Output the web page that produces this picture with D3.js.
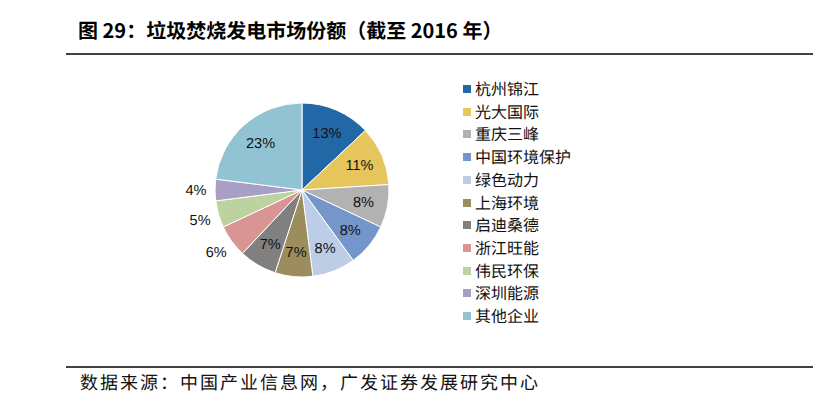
<!DOCTYPE html>
<html lang="zh-CN">
<head>
<meta charset="utf-8">
<script src="https://cdn.jsdelivr.net/npm/d3@7"></script>
<style>
  body { margin: 0; background: #fff; }
  svg { display: block; }
  text { -webkit-font-smoothing: antialiased; text-rendering: geometricPrecision; }
</style>
</head>
<body>
<div class="graph"></div>
<script>
const companies = ['杭州锦江', '光大国际', '重庆三峰', '中国环境保护', '绿色动力', '上海环境', '启迪桑德', '浙江旺能', '伟民环保', '深圳能源', '其他企业'];
const shares = [13, 11, 8, 8, 8, 7, 7, 6, 5, 4, 23];
const colors = ['#2368a6', '#e6c55c', '#b2b2b2', '#7596cb', '#bccde5', '#9b8d5c', '#808080', '#d99593', '#bdd39f', '#a89fc5', '#92c3d3'];
const outside = ['浙江旺能', '伟民环保', '深圳能源'];

const width = 824;
const height = 397;
const cjk = '"Noto Sans CJK SC", "Noto Sans CJK JP", "Noto Sans CJK TC", sans-serif';

const svg = d3.select('.graph').append('svg')
  .attr('width', width)
  .attr('height', height);

// title + rules
svg.append('text')
  .attr('x', 78)
  .attr('y', 38)
  .attr('font-family', cjk)
  .attr('font-weight', 'bold')
  .attr('font-size', '20px')
  .attr('fill', '#000')
  .text('图 29：垃圾焚烧发电市场份额（截至 2016 年）');

svg.append('line')
  .attr('x1', 66).attr('x2', 813)
  .attr('y1', 54).attr('y2', 54)
  .attr('stroke', '#000').attr('stroke-width', 1.5);

svg.append('line')
  .attr('x1', 66).attr('x2', 813)
  .attr('y1', 367).attr('y2', 367)
  .attr('stroke', '#000').attr('stroke-width', 1.5);

svg.append('text')
  .attr('x', 80)
  .attr('y', 389)
  .attr('font-family', cjk)
  .attr('font-size', '18px')
  .attr('letter-spacing', '2px')
  .attr('fill', '#111')
  .text('数据来源：中国产业信息网，广发证券发展研究中心');

// pie
const data = companies.map((c, i) => ({ name: c, value: shares[i] }));
const radius = 87;
const cx = 302, cy = 190;

const pie = d3.pie().sort(null).value(d => d.value);
const arc = d3.arc().innerRadius(0).outerRadius(radius);
const labelArc = d3.arc().innerRadius(radius * 0.72).outerRadius(radius * 0.72);
const outerArc = d3.arc().innerRadius(radius * 1.22).outerRadius(radius * 1.22);

const color = d3.scaleOrdinal().domain(companies).range(colors);

const g = svg.append('g').attr('transform', `translate(${cx},${cy})`);

const arcs = pie(data);

g.selectAll('path')
  .data(arcs)
  .enter().append('path')
  .attr('d', arc)
  .attr('fill', d => color(d.data.name))
  .attr('stroke', '#fff')
  .attr('stroke-width', 1);

g.selectAll('text')
  .data(arcs)
  .enter().append('text')
  .attr('transform', d => {
    const p = outside.includes(d.data.name) ? outerArc.centroid(d) : labelArc.centroid(d);
    return `translate(${p})`;
  })
  .attr('text-anchor', 'middle')
  .attr('dy', '0.35em')
  .attr('font-family', '"Liberation Sans", Arial, sans-serif')
  .attr('font-size', '14.5px')
  .attr('fill', '#111')
  .text(d => d.data.value + '%');

// legend
const legend = svg.append('g').attr('transform', 'translate(463,89)');
const row = legend.selectAll('g')
  .data(companies)
  .enter().append('g')
  .attr('transform', (d, i) => `translate(0,${Math.round(i * 22.7)})`);

row.append('rect')
  .attr('x', 0).attr('y', -4)
  .attr('width', 8).attr('height', 8)
  .attr('fill', d => color(d));

row.append('text')
  .attr('x', 12)
  .attr('y', 6)
  .attr('font-family', cjk)
  .attr('font-size', '16px')
  .attr('fill', '#111')
  .text(d => d);
</script>
</body>
</html>
